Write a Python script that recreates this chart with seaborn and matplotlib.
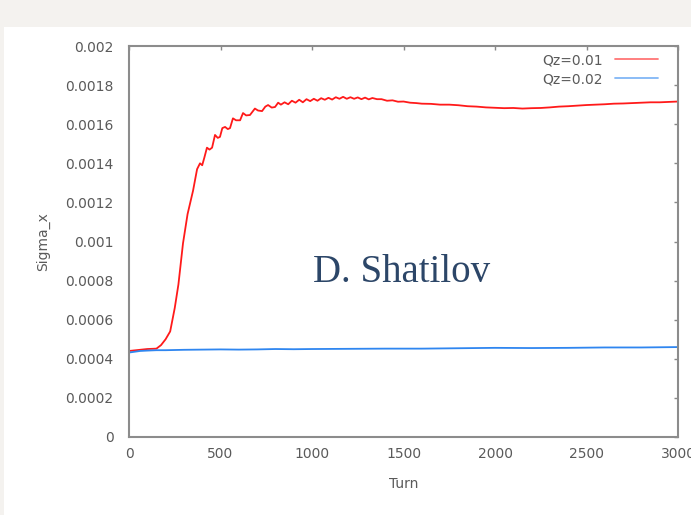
import numpy as np
import pandas as pd
import matplotlib
matplotlib.use("Agg")
import matplotlib.pyplot as plt
from matplotlib.patches import Rectangle
import seaborn as sns

# ---- data ----
red_turn = [0, 50, 100, 150, 175, 200, 225, 250, 270, 295, 320, 350, 372, 388, 400, 412, 426, 440, 454,
            470, 485, 497, 510, 525, 540, 552, 568, 585, 607, 623, 640, 661, 688, 705, 727, 745, 760, 780,
            798, 815, 830, 850, 870, 890, 910, 930, 950, 970, 990, 1010, 1030, 1050, 1070, 1090, 1110,
            1130, 1150, 1170, 1190, 1210, 1230, 1250, 1270, 1290, 1310, 1330, 1355, 1380, 1410, 1440,
            1470, 1500, 1536, 1570, 1600, 1650, 1700, 1750, 1800, 1850, 1900, 1950, 2000, 2050, 2100,
            2150, 2200, 2250, 2300, 2350, 2400, 2450, 2500, 2550, 2600, 2650, 2700, 2750, 2800, 2850,
            2900, 2950, 3000]
red_sigma = [0.00044, 0.000445, 0.00045, 0.000452, 0.00047, 0.0005, 0.00054, 0.00066, 0.00078, 0.00099,
             0.00114, 0.00126, 0.00137, 0.0014, 0.00139, 0.00143, 0.00148, 0.00147, 0.00148,
             0.001545, 0.00153, 0.001535, 0.00158, 0.001586, 0.001575, 0.00158, 0.00163, 0.00162,
             0.00162, 0.001657, 0.001645, 0.001647, 0.00168, 0.00167, 0.001667, 0.00169, 0.001698,
             0.001685, 0.001688, 0.00171, 0.0017, 0.001712, 0.001702, 0.00172, 0.00171, 0.001725,
             0.001712, 0.001728, 0.001718, 0.00173, 0.00172, 0.001733, 0.001725, 0.001735, 0.001726,
             0.001738, 0.00173, 0.00174, 0.00173, 0.001738, 0.00173, 0.001737, 0.001728, 0.001736,
             0.001727, 0.001734, 0.001728, 0.001728, 0.00172, 0.001722, 0.001715, 0.001716, 0.00171,
             0.001708, 0.001705, 0.001704, 0.0017, 0.0017, 0.001697, 0.001692, 0.00169, 0.001686,
             0.001684, 0.001682, 0.001683, 0.00168, 0.001682, 0.001683, 0.001686, 0.00169, 0.001692,
             0.001695, 0.001698, 0.0017, 0.001702, 0.001705, 0.001706, 0.001708, 0.00171, 0.001712,
             0.001712, 0.001714, 0.001716]

blue_turn = [0, 30, 60, 100, 150, 200, 300, 400, 500, 600, 700, 800, 900, 1000, 1200, 1400, 1600,
             1800, 2000, 2200, 2400, 2600, 2800, 3000]
blue_sigma = [0.000432, 0.000436, 0.00044, 0.000442, 0.000444, 0.000444, 0.000446, 0.000447, 0.000448,
              0.000447, 0.000448, 0.00045, 0.000449, 0.00045, 0.000451, 0.000452, 0.000452, 0.000454,
              0.000456, 0.000455, 0.000456, 0.000458, 0.000458, 0.00046]

series_labels = ["Qz=0.01", "Qz=0.02"]
x_ticks = [0, 500, 1000, 1500, 2000, 2500, 3000]
y_ticks = [0, 0.0002, 0.0004, 0.0006, 0.0008, 0.001, 0.0012, 0.0014, 0.0016, 0.0018, 0.002]
y_tick_labels = ["0", "0.0002", "0.0004", "0.0006", "0.0008", "0.001", "0.0012", "0.0014",
                 "0.0016", "0.0018", "0.002"]

df = pd.concat([
    pd.DataFrame({"Turn": red_turn, "Sigma_x": red_sigma, "series": series_labels[0]}),
    pd.DataFrame({"Turn": blue_turn, "Sigma_x": blue_sigma, "series": series_labels[1]}),
], ignore_index=True)

sns.set_theme(style="white")
plt.rcParams["font.family"] = ["DejaVu Sans"]

fig = plt.figure(figsize=(6.91, 5.15), dpi=100, facecolor="white")
# page-like background stripes
fig.patches.append(Rectangle((0, 1 - 27 / 515), 1, 27 / 515, transform=fig.transFigure,
                             facecolor="#f4f2ef", edgecolor="none", zorder=0))
fig.patches.append(Rectangle((0, 0), 4 / 691, 1, transform=fig.transFigure,
                             facecolor="#f4f2ef", edgecolor="none", zorder=0))

ax = fig.add_axes([129 / 691, 1 - 437 / 515, (678 - 129) / 691, (437 - 46) / 515])
palette = {series_labels[0]: "#ff1a1a", series_labels[1]: "#2f86f0"}
sns.lineplot(data=df, x="Turn", y="Sigma_x", hue="series", palette=palette, ax=ax,
             linewidth=1.3, legend=True)

ax.set_xlim(0, 3000)
ax.set_ylim(0, 0.002)
ax.set_xticks(x_ticks)
ax.set_xticklabels([str(t) for t in x_ticks])
ax.set_yticks(y_ticks)
ax.set_yticklabels(y_tick_labels)
ax.tick_params(axis="both", direction="in", length=3, width=1, color="#888888",
               labelsize=10, labelcolor="#5a5a5a", top=True, right=True)
ax.tick_params(axis="y", pad=11)
ax.tick_params(axis="x", pad=7)
for s in ax.spines.values():
    s.set_color("#8c8c8c")
    s.set_linewidth(1.5)
ax.set_xlabel("Turn", fontsize=10, color="#5a5a5a", labelpad=12)
ax.set_ylabel("Sigma_x", fontsize=10, color="#5a5a5a", labelpad=11)

handles, labels = ax.get_legend_handles_labels()
leg = ax.legend(handles, labels, loc="upper right", bbox_to_anchor=(0.978, 1.003),
                frameon=False, markerfirst=False,
                fontsize=10, handlelength=3.1, handletextpad=0.85, labelspacing=0.35,
                borderaxespad=0.3, borderpad=0.3)
for t in leg.get_texts():
    t.set_color("#5a5a5a")
for l in leg.get_lines():
    l.set_alpha(0.6)

ax.text(0.497, 0.42, "D. Shatilov", transform=ax.transAxes, ha="center", va="center",
        fontsize=28, color="#2c4668", family=["Liberation Serif", "DejaVu Serif"])

fig.savefig("out.png", dpi=100, facecolor="white")
